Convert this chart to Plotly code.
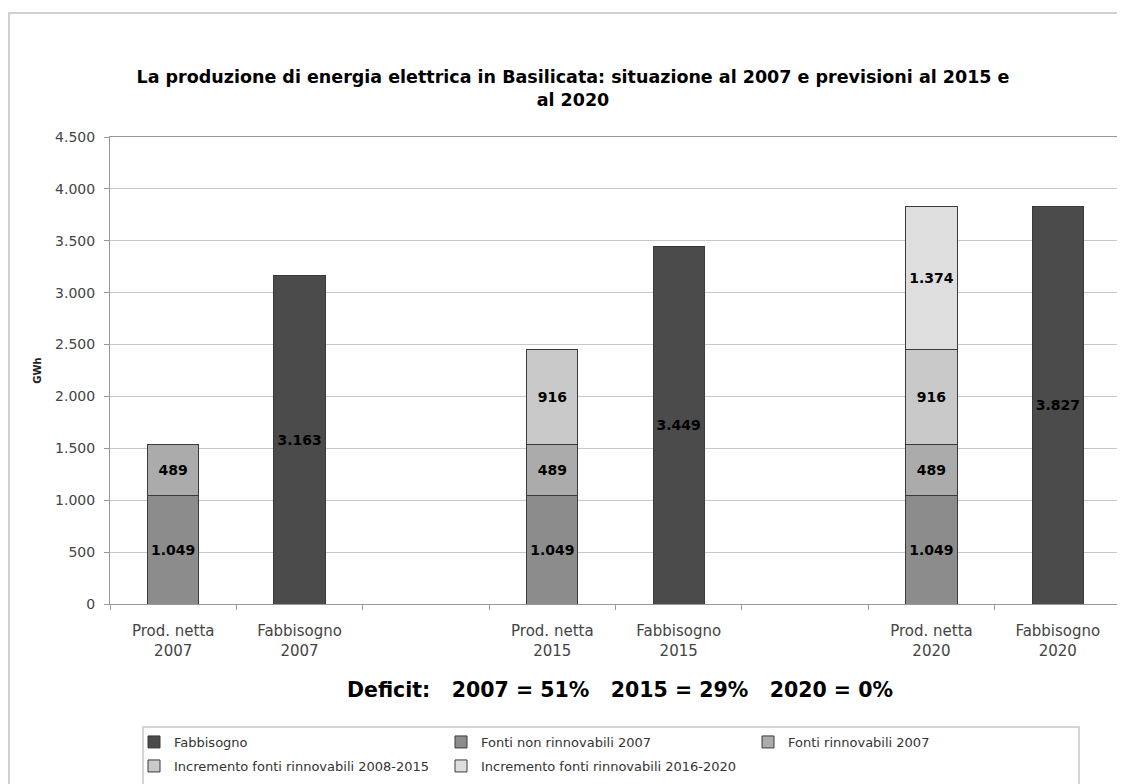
import plotly.graph_objects as go

# ---- data ----
categories = ["Prod. netta<br>2007", "Fabbisogno<br>2007", " ",
              "Prod. netta<br>2015", "Fabbisogno<br>2015", "  ",
              "Prod. netta<br>2020", "Fabbisogno<br>2020"]

fabbisogno_x = ["Fabbisogno<br>2007", "Fabbisogno<br>2015", "Fabbisogno<br>2020"]
fabbisogno_y = [3163, 3449, 3827]

prod_x = ["Prod. netta<br>2007", "Prod. netta<br>2015", "Prod. netta<br>2020"]
non_rinnovabili_y = [1049, 1049, 1049]
rinnovabili_2007_y = [489, 489, 489]

incr_2015_x = ["Prod. netta<br>2015", "Prod. netta<br>2020"]
incr_2015_y = [916, 916]

incr_2020_x = ["Prod. netta<br>2020"]
incr_2020_y = [1374]

y_ticks = [0, 500, 1000, 1500, 2000, 2500, 3000, 3500, 4000, 4500]

title_text = ("La produzione di energia elettrica in Basilicata: situazione al 2007 e previsioni al 2015 e"
              "<br>al 2020")
deficit_text = ("Deficit:\u00a0\u00a0\u00a02007 = 51%\u00a0\u00a0\u00a02015 = 29%"
                "\u00a0\u00a0\u00a02020 = 0%")

# ---- geometry (screen pixels; page body adds an 8px offset) ----
FONT = "DejaVu Sans"
OFF = 8
W, H = 1125, 784
L = 110 - OFF
T = 137 - OFF
R = W - (1121 - OFF)
B = H - (604 - OFF)
PW, PH = W - L - R, H - T - B


def px_x(sx):
    return (sx - OFF - L) / PW


def px_y(sy):
    return (H - B - (sy - OFF)) / PH


bar_line = dict(color="#3a3a3a", width=1)
txt = dict(family=FONT, size=14, color="black", weight="bold")

fig = go.Figure()
series = [
    ("Fabbisogno", fabbisogno_x, fabbisogno_y, "#4b4b4b", "legend"),
    ("Fonti non rinnovabili 2007", prod_x, non_rinnovabili_y, "#8c8c8c", "legend"),
    ("Fonti rinnovabili 2007", prod_x, rinnovabili_2007_y, "#ababab", "legend"),
    ("Incremento fonti rinnovabili 2008-2015", incr_2015_x, incr_2015_y, "#c9c9c9", "legend2"),
    ("Incremento fonti rinnovabili 2016-2020", incr_2020_x, incr_2020_y, "#dedede", "legend2"),
]
for name, xs, ys, col, lg in series:
    fig.add_trace(go.Bar(
        name=name, x=xs, y=ys, legend=lg,
        marker=dict(color=col, line=bar_line),
        texttemplate="%{y:,}", textposition="inside", insidetextanchor="middle",
        textfont=txt, constraintext="none",
    ))

legend_common = dict(orientation="h", xanchor="left", yanchor="middle",
                     xref="paper", yref="paper",
                     entrywidth=262, entrywidthmode="pixels", traceorder="normal",
                     font=dict(family=FONT, size=13, color="#333333"),
                     bgcolor="rgba(0,0,0,0)", borderwidth=0)

fig.update_layout(
    width=W, height=H,
    margin=dict(l=L, r=R, t=T, b=B, pad=0, autoexpand=False),
    barmode="stack", bargap=0.595,
    separators=",.",
    paper_bgcolor="white", plot_bgcolor="white",
    font=dict(family=FONT, size=12, color="#333333"),
    title=dict(text=title_text, xref="container", yref="container",
               x=(573 - OFF) / W, y=1 - (83 - OFF) / H, xanchor="center", yanchor="top",
               font=dict(family=FONT, size=17.5, color="black", weight="bold")),
    xaxis=dict(type="category", categoryorder="array", categoryarray=categories,
               range=[-0.5, 7.5], tickson="boundaries", ticks="outside",
               ticklen=5, tickcolor="#999999",
               showline=True, linecolor="#999999", linewidth=1, mirror=True,
               tickfont=dict(family=FONT, size=15, color="#444444"),
               ticklabelstandoff=13),
    yaxis=dict(range=[0, 4500], tickvals=y_ticks, tickformat=",",
               ticks="outside", ticklen=5, tickcolor="#999999",
               showline=True, linecolor="#999999", linewidth=1, mirror=True,
               gridcolor="#c8c8c8", gridwidth=1,
               tickfont=dict(family=FONT, size=14, color="#444444"),
               ticklabelstandoff=6,
               title=dict(text="GWh", standoff=11,
                          font=dict(family=FONT, size=10, color="#222222", weight="bold"))),
    legend=dict(legend_common, x=px_x(134), y=px_y(742)),
    legend2=dict(legend_common, x=px_x(134), y=px_y(766)),
    showlegend=True,
)

fig.add_annotation(text=deficit_text, xref="paper", yref="paper",
                   x=px_x(620), y=px_y(690), xanchor="center", yanchor="middle",
                   showarrow=False,
                   font=dict(family=FONT, size=20.5, color="black", weight="bold"))

# outer chart frame and legend box
fig.add_shape(type="rect", xref="paper", yref="paper",
              x0=px_x(9), x1=px_x(1145), y0=px_y(810), y1=px_y(13),
              line=dict(color="#d0d0d0", width=2), fillcolor="rgba(0,0,0,0)", layer="below")
fig.add_shape(type="rect", xref="paper", yref="paper",
              x0=px_x(143), x1=px_x(1079), y0=px_y(810), y1=px_y(727),
              line=dict(color="#c8c8c8", width=1.5), fillcolor="rgba(0,0,0,0)", layer="below")

fig.write_html("out.html")
